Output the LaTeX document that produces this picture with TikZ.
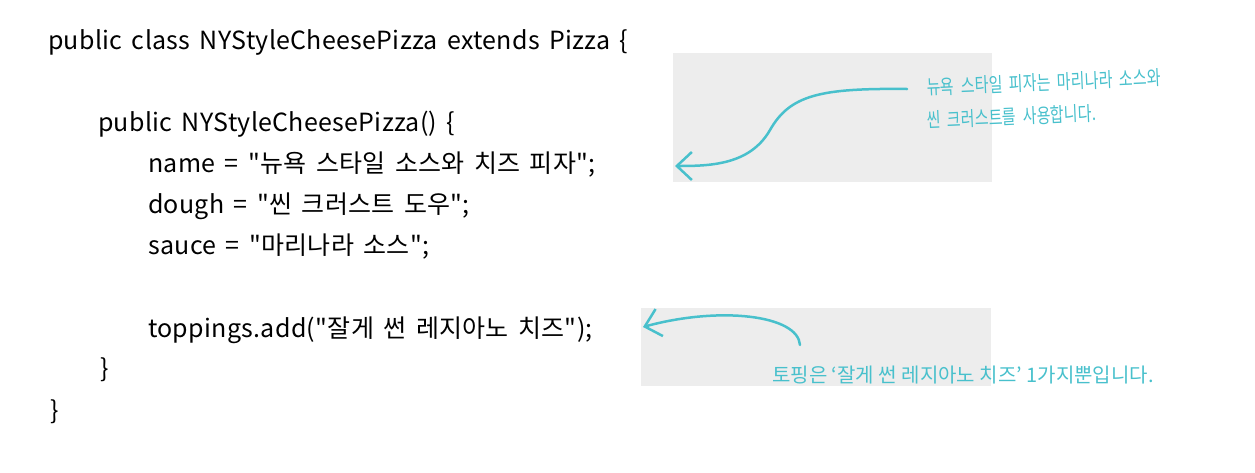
\documentclass[tikz,border=0pt]{standalone}
\usepackage{fontspec}
\newfontfamily\codefont[WordSpace=1.6,LetterSpace=1.2]{Noto Sans CJK KR}
\newfontfamily\notefont[FakeStretch=0.75,WordSpace=2]{Noto Sans CJK KR}
\newfontfamily\notewidefont{Noto Sans CJK KR}
\usetikzlibrary{arrows.meta}

\definecolor{noteteal}{RGB}{72,192,204}
\definecolor{notegray}{RGB}{237,237,237}

\begin{document}
\begin{tikzpicture}[x=1pt,y=-1pt,
        code/.style={anchor=base west,inner sep=0pt,font=\codefont\fontsize{25}{25}\selectfont},
        note/.style={anchor=base west,inner sep=0pt,text=noteteal,font=\notefont\fontsize{20}{20}\selectfont},
        pointer/.style={->,draw=noteteal,line width=2.5pt,line cap=round,
          >={Straight Barb[length=15pt,width=28pt]}}]

  \useasboundingbox (0,0) rectangle (1255,472);

  % gray patches behind the notes
  \fill[notegray] (673,53) rectangle (992,182);
  \fill[notegray] (641,308) rectangle (991,386);

  % the code
  \node[code] (classLine) at (48,49) {public class NYStyleCheesePizza extends Pizza \{};
  \node[code] (ctorLine) at (98,131) {public NYStyleCheesePizza() \{};
  \node[code] (nameLine) at (148,172) {name = "뉴욕 스타일 소스와 치즈 피자";};
  \node[code] (doughLine) at (148,213) {dough = "씬 크러스트 도우";};
  \node[code] (sauceLine) at (148,254) {sauce = "마리나라 소스";};
  \node[code] (toppingLine) at (148,337) {toppings.add("잘게 썬 레지아노 치즈");};
  \node[code] (ctorEnd) at (100,377) {\}};
  \node[code] (classEnd) at (50,419) {\}};

  % the notes
  \node[note,rotate=2.5] (crustNoteA) at (927,95) {뉴욕 스타일 피자는 마리나라 소스와};
  \node[note,rotate=2.5] (crustNoteB) at (927,128) {씬 크러스트를 사용합니다.};
  \node[note,font=\notewidefont\fontsize{20}{20}\selectfont] (toppingNote) at (772,382)
    {토핑은 ‘잘게 썬 레지아노 치즈’ 1가지뿐입니다.};

  \coordinate (crustTail) at (907,89);
  \coordinate (nameTip) at (675,166);
  \coordinate (toppingTail) at (800,345);
  \coordinate (toppingTip) at (643,327);

  \draw[pointer] (crustTail) .. controls (820,88) and (790,95) .. (770,130)
                 .. controls (750,165) and (710,166) .. (nameTip);
  \draw[pointer] (toppingTail) .. controls (798,315) and (720,306) .. (toppingTip);

\end{tikzpicture}
\end{document}
